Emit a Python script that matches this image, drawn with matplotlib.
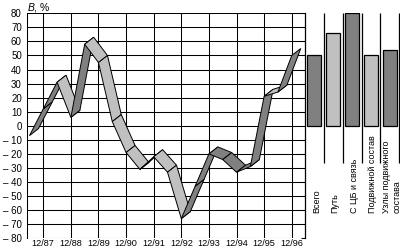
import matplotlib
matplotlib.use("Agg")
import matplotlib.pyplot as plt
import numpy as np

plt.rcParams['font.family'] = ['Liberation Sans', 'DejaVu Sans']
plt.rcParams['mathtext.fontset'] = 'custom'
plt.rcParams['mathtext.it'] = 'Liberation Sans:italic'
plt.rcParams['font.size'] = 7

# half-year points of the index B, %
periods = ['6/87', '12/87', '6/88', '12/88', '6/89', '12/89', '6/90', '12/90',
           '6/91', '12/91', '6/92', '12/92', '6/93', '12/93', '6/94', '12/94',
           '6/95', '12/95', '6/96', '12/96']
b_vals = [-7, 12, 31, 6, 58, 45, 3, -19, -31, -22, -33, -66, -43, -20, -24,
          -33, -29, 21, 24, 50]
# shade of each ribbon piece as seen in the picture: d = dark, l = light
shade = ['d', 'd', 'l', 'd', 'l', 'l', 'l', 'l', 'd', 'l', 'l', 'd', 'd', 'd',
         'd', 'd', 'd', 'l', 'd']

year_labels = ['12/87', '12/88', '12/89', '12/90', '12/91', '12/92', '12/93',
               '12/94', '12/95', '12/96']

bar_names = ['Всего', 'Путь', 'С ЦБ и связь', 'Подвижной состав',
             'Узлы подвижного\nсостава']
bar_vals = [50, 66, 80, 50, 54]

dark = '#808080'
light = '#c0c0c0'


def pos(p):
    m, y = p.split('/')
    return (int(y) - 87) + (int(m) - 12) / 12.0


fig = plt.figure(figsize=(4.0, 2.48), dpi=100)
ax = fig.add_axes([26.7 / 400, 9.7 / 248, (305 - 26.7) / 400, 225 / 248])

ax.set_xlim(-0.6, 9.48)
ax.set_ylim(-80, 80)
ax.set_xticks(range(len(year_labels)))
ax.set_xticklabels(year_labels, fontsize=6.6)
yt = list(range(80, -81, -10))
ax.set_yticks(yt)
ax.set_yticklabels([str(v) if v >= 0 else '– %d' % abs(v) for v in yt])
ax.tick_params(axis='x', length=0, pad=0.8)
ax.tick_params(axis='y', length=0, pad=3.5, labelsize=7)
ax.grid(True, color='black', linewidth=0.75)
for s in ['top', 'right', 'bottom']:
    ax.spines[s].set_visible(False)
ax.spines['left'].set_linewidth(0.75)

# ribbon: front edge at the data, back edge shifted up-right on screen
t = np.array([pos(p) for p in periods])
front = np.column_stack([t, b_vals])
fpx = ax.transData.transform(front)
back = ax.transData.inverted().transform(fpx + np.array([9, 7]))
for i in range(len(t) - 1):
    quad = [front[i], front[i + 1], back[i + 1], back[i]]
    col = dark if shade[i] == 'd' else light
    ax.add_patch(plt.Polygon(quad, closed=True, facecolor=col,
                             edgecolor='black', linewidth=0.7, zorder=3))

fig.text(27 / 400, 1 - 1 / 248, r'$B$, %', fontsize=7.5, va='top', ha='left')

# bar panel on the right
ax2 = fig.add_axes([305 / 400, 9.7 / 248, (399.3 - 305) / 400, 225 / 248])
ax2.set_xlim(-0.5, 4.5)
ax2.set_ylim(-80, 80)
xb = np.arange(len(bar_vals))
ax2.bar(xb, bar_vals, width=0.74, color=[dark, light, dark, light, dark],
        edgecolor='black', linewidth=0.9, zorder=3)
ax2.vlines(np.arange(0.5, 5, 1.0), -26.5, 80, color='black', linewidth=0.9,
           clip_on=False)
ax2.set_yticks(yt)
ax2.tick_params(axis='y', direction='out', length=3, width=0.75,
                labelleft=False)
ax2.set_xticks([])
for s in ['top', 'right', 'bottom']:
    ax2.spines[s].set_visible(False)
ax2.spines['left'].set_linewidth(0.9)
for i, name in enumerate(bar_names):
    ax2.text(xb[i] + 0.1, -62, name, rotation=90, ha='center', va='bottom',
             fontsize=6.5, multialignment='left')

fig.savefig('out.png', dpi=100)
